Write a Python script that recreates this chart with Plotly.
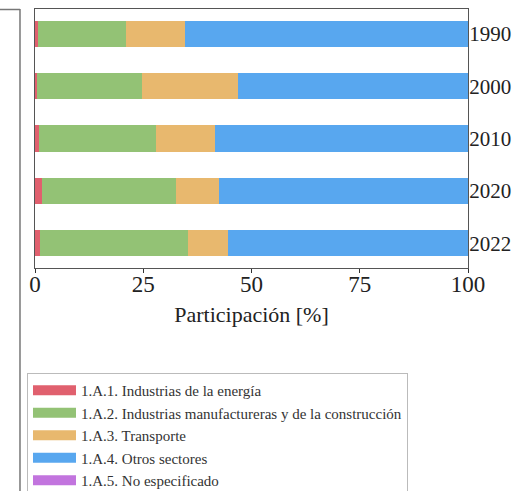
import plotly.graph_objects as go

years = ["1990", "2000", "2010", "2020", "2022"]
series_names = [
    "1.A.1. Industrias de la energía",
    "1.A.2. Industrias manufactureras y de la construcción",
    "1.A.3. Transporte",
    "1.A.4. Otros sectores",
    "1.A.5. No especificado",
]
energia = [0.6, 0.5, 0.9, 1.5, 1.1]
manufactura = [20.4, 24.3, 27.1, 31.1, 34.3]
transporte = [13.7, 22.0, 13.6, 9.8, 9.1]
otros = [65.3, 53.2, 58.4, 57.6, 55.5]
no_especificado = [0.0, 0.0, 0.0, 0.0, 0.0]
x_ticks = [0, 25, 50, 75, 100]

colors = ["#e0606e", "#93c275", "#e8b86e", "#58a7ef", "#c274de"]
values = [energia, manufactura, transporte, otros, no_especificado]

FONT = "'Liberation Serif', 'Times New Roman', Times, serif"

fig = go.Figure()
for name, vals, col in zip(series_names, values, colors):
    fig.add_trace(go.Bar(
        y=years, x=vals, orientation="h", name=name,
        marker=dict(color=col, line=dict(width=0)),
        width=0.5, showlegend=False, legendgroup=name,
    ))
for name, col in zip(series_names, colors):
    fig.add_trace(go.Scatter(
        x=[None], y=[None], mode="lines", name=name, legendgroup=name,
        line=dict(color=col, width=10), showlegend=True,
    ))

W, H = 513, 491
L, R, T, B = 35, 45.3, 9, 223
pw = W - L - R
ph = H - T - B

def px(x):
    return (x - L) / pw

def py(y):
    return (H - B - y) / ph

fig.update_layout(
    width=W, height=H,
    margin=dict(l=L, r=R, t=T, b=B, autoexpand=False),
    paper_bgcolor="white", plot_bgcolor="white",
    barmode="stack",
    font=dict(family=FONT, color="#222"),
    xaxis=dict(
        range=[0, 100], tickvals=x_ticks, ticktext=[str(v) for v in x_ticks],
        ticks="outside", ticklen=4, tickcolor="#333", automargin=False,
        ticklabelstandoff=-9,
        showline=True, linecolor="#555", linewidth=1, mirror=True,
        showgrid=False, zeroline=False,
        tickfont=dict(size=23, family=FONT, color="#222"),
        title=dict(text="Participación [%]", font=dict(size=22, family=FONT, color="#222"), standoff=11),
    ),
    yaxis=dict(
        type="category", categoryorder="array", categoryarray=years,
        range=[4.475, -0.475], side="right", automargin=False,
        ticklabelstandoff=-4,
        ticks="", showline=True, linecolor="#555", linewidth=1, mirror=True,
        showgrid=False, zeroline=False,
        tickfont=dict(size=21, family=FONT, color="#222"),
    ),
    legend=dict(
        x=px(27), y=py(373), xanchor="left", yanchor="top",
        bgcolor="white", bordercolor="#bbbbbb", borderwidth=1,
        font=dict(size=15, family=FONT, color="#333"),
        traceorder="normal", itemwidth=43,
    ),
    shapes=[
        dict(type="line", xref="paper", yref="paper", x0=px(20), x1=px(20), y0=py(9), y1=py(495),
             line=dict(color="#777", width=1.5)),
        dict(type="line", xref="paper", yref="paper", x0=px(-5), x1=px(20), y0=py(9.5), y1=py(9.5),
             line=dict(color="#777", width=1.5)),
    ],
)

fig.write_html(
    "out.html",
    config={"displayModeBar": False},
    post_script="document.body.style.margin='0';document.body.style.padding='0';",
)
